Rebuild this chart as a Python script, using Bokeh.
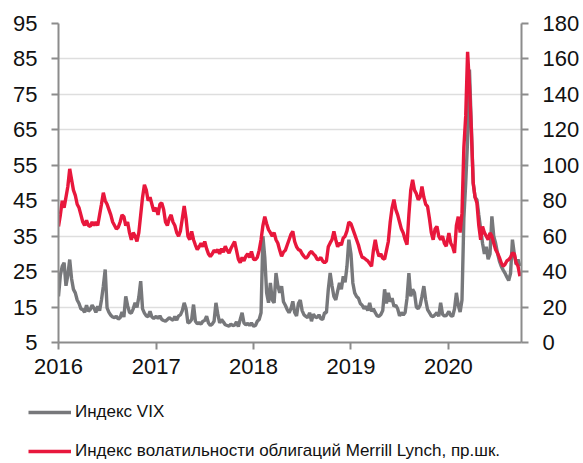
import pandas as pd
from bokeh.plotting import figure
from bokeh.layouts import column
from bokeh.models import (Range1d, LinearAxis, FixedTicker, DatetimeTickFormatter,
                          Legend, LegendItem, ColumnDataSource)
from bokeh.embed import file_html
from bokeh.resources import INLINE

# Weekly readings, one list per calendar year
vix_2016 = [18, 24, 26.5, 27.5, 21, 24, 28.4, 23, 20, 19, 17, 16, 14.5, 14.3, 13.5, 15.5,
            13.8, 14.3, 15.5, 14.7, 13.5, 15.2, 14, 17, 20.9, 25.6, 14.8, 13.5, 12.7, 12.2,
            12, 12.4, 11.6, 12, 13.6, 12.2, 18, 15.4, 13.5, 13.3, 14.5, 16.2, 14.9, 17.8,
            22.3, 14.5, 13.3, 12.5, 12.3, 13.8, 12.2, 11.8]
vix_2017 = [12.4, 11.8, 12.5, 11.5, 11.2, 11.0, 11.5, 12.0, 11.6, 11.3, 12.3, 11.3, 12.5,
            12.8, 14.0, 16.2, 14.5, 10.5, 10.8, 11.5, 15.7, 11, 10.3, 10.6, 10.2, 11.0, 11.2,
            12.4, 10.5, 9.8, 10.2, 11.0, 16.2, 13.0, 10.5, 11.5, 10.8, 10.0, 9.8, 9.6, 10.2,
            9.8, 9.9, 10.8, 9.5, 11.5, 13.4, 10.5, 10.0, 10.4, 9.8, 10.5]
vix_2018 = [9.6, 9.8, 11.0, 11.5, 13.4, 35, 29, 19, 16.2, 21.8, 17, 16.2, 24.6, 21, 19,
            20.9, 16.5, 15.5, 14.3, 13.4, 14.5, 16.6, 13.5, 12.5, 16, 17, 14, 12.8, 12.4,
            12, 13.4, 11, 13.0, 12.2, 12, 12.8, 11.7, 11.5, 13.4, 13.4, 20, 24.6, 21, 18, 17,
            19.5, 21.8, 20, 23.7, 22, 26.5, 34]
vix_2019 = [30, 21.8, 19, 18, 17.5, 16, 15.5, 14.5, 15.2, 14, 16.2, 13.8, 14.5, 13.4, 12.5,
            12.4, 12.9, 14, 20, 16, 19, 16.5, 17.5, 15.2, 15.5, 14.5, 12.5, 13.4, 12.8, 13.5,
            17.5, 24.6, 18, 20, 19, 15, 14.5, 15.5, 18, 20.9, 17, 14.3, 13.4, 12.5, 12.3,
            12.8, 13.4, 12.4, 16.2, 13, 12.5, 12.6]
vix_2020 = [13.8, 12.6, 12.4, 14.5, 19, 15.5, 13.6, 17, 40, 50, 62, 82, 66, 50, 46, 45.3,
            41, 37, 33, 30, 32, 28.5, 30, 40.6, 35, 33, 30.2, 28, 26.5, 25.5, 24.6, 23.5,
            22.5, 24.5, 34, 30, 27, 28.4, 26.5]

move_2016 = [65.5, 72, 80, 76, 82, 88, 98, 92, 86, 83, 78, 76, 72, 68, 66, 69, 66, 65.5,
             68, 66, 68, 66, 72, 78, 84.5, 80, 78, 75, 72, 68, 66, 64, 65, 68, 72, 71, 66,
             68, 62, 58, 62, 60, 57, 62, 72, 82, 89, 86, 80, 82, 78, 74]
move_2017 = [76, 72, 78, 78.7, 75, 68, 66, 70, 72, 68, 66, 62, 60, 63, 70, 77, 70, 60, 58,
             62.7, 58, 55, 52.4, 54, 56, 54, 57, 53, 50, 48.6, 50, 52, 51, 52.4, 50, 53, 51,
             54.3, 52, 50.5, 53, 55, 57, 52, 47, 45, 48, 46, 48.6, 50, 48, 51.4]
move_2018 = [47, 46.8, 48, 52, 58, 66, 71, 67, 63.7, 62, 60, 62, 58, 56, 52, 48.6, 51, 52,
             55, 58, 61, 62.7, 57, 54, 52.4, 52, 50, 48.6, 47.5, 48.5, 50.5, 51.4, 50, 49,
             47, 46.8, 48, 46, 44.9, 46, 54, 56.2, 58, 62.7, 58, 54, 56.2, 55, 59, 60, 63, 68]
move_2019 = [67, 64, 61, 58, 55, 51, 48, 47.7, 46.8, 46, 44.5, 43, 52, 58, 52, 48.6, 50,
             47.5, 47, 52, 57, 68, 76, 80.6, 75, 72, 68, 64, 61.8, 58, 55.2, 72, 86, 91.8,
             86, 84, 80.6, 82, 88, 82, 78, 76.8, 70, 62, 58, 64, 65.5, 60, 58, 60, 56, 54.3]
move_2020 = [61.8, 56, 54, 50.5, 66, 71, 62, 73, 110, 128, 164, 145, 120, 90, 82, 78.7, 66,
             58, 65.5, 62, 60, 58, 61.8, 60, 56, 52.4, 50.5, 48, 45, 43, 44, 46, 46.8, 48,
             50.5, 50, 45, 43, 37.4]

years = [2016, 2017, 2018, 2019, 2020]
vix_by_year = [vix_2016, vix_2017, vix_2018, vix_2019, vix_2020]
move_by_year = [move_2016, move_2017, move_2018, move_2019, move_2020]

left_ticks = [5, 15, 25, 35, 45, 55, 65, 75, 85, 95]
right_ticks = [0, 20, 40, 60, 80, 100, 120, 140, 160, 180]
year_ticks = ["2016-01-01", "2017-01-01", "2018-01-01", "2019-01-01", "2020-01-01"]

vix_label = "Индекс VIX"
move_label = "Индекс волатильности облигаций Merrill Lynch, пр.шк."


def weekly(year, n, offset_days=0):
    start = pd.Timestamp(f"{year}-01-01") + pd.Timedelta(days=offset_days)
    return [start + pd.Timedelta(days=7 * i) for i in range(n)]


def series(by_year):
    xs, ys = [], []
    for y, vals in zip(years, by_year):
        xs += weekly(y, len(vals), 2 if y == 2020 else 0)
        ys += vals
    return xs, ys


vx, vy = series(vix_by_year)
mx, my = series(move_by_year)

FONT = "Liberation Sans"
GREY = "#77787b"
RED = "#e8173c"
AXIS = "#8c8c8c"
LINE_W = 3.4

# ---- main chart ----
p = figure(width=583, height=392, output_backend="svg", toolbar_location=None,
           x_axis_type="datetime",
           x_range=Range1d(pd.Timestamp("2016-01-01"), pd.Timestamp("2020-10-01")),
           y_range=Range1d(5, 95),
           min_border_left=58, min_border_right=62, min_border_top=23, min_border_bottom=50)
p.outline_line_color = None
p.background_fill_color = "white"
p.border_fill_color = "white"
p.extra_y_ranges = {"move": Range1d(0, 180)}

# VIX on the left scale, bond volatility on the right scale
src_v = ColumnDataSource(dict(x=vx, y=vy))
src_m = ColumnDataSource(dict(x=mx, y=my))
p.line("x", "y", source=src_v, line_color=GREY, line_width=LINE_W)
p.line("x", "y", source=src_m, line_color=RED, line_width=LINE_W, y_range_name="move")

p.xaxis.ticker = FixedTicker(ticks=[pd.Timestamp(t).value / 1e6 for t in year_ticks])
p.xaxis.formatter = DatetimeTickFormatter(years="%Y", months="%Y", days="%Y", hours="%Y")
p.yaxis.ticker = FixedTicker(ticks=left_ticks)

right = LinearAxis(y_range_name="move", ticker=FixedTicker(ticks=right_ticks))
p.add_layout(right, "right")

for ax in [p.xaxis[0], p.yaxis[0], right]:
    ax.axis_line_color = AXIS
    ax.axis_line_width = 2
    ax.major_tick_line_color = AXIS
    ax.major_tick_line_width = 2
    ax.major_tick_out = 7
    ax.major_tick_in = 0
    ax.minor_tick_line_color = None
    ax.major_label_text_font = FONT
    ax.major_label_text_font_size = "22px"
    ax.major_label_text_color = "#111111"
p.xaxis.major_label_standoff = 9
p.yaxis.major_label_standoff = 14
right.major_label_standoff = 14

p.xgrid.grid_line_color = None
p.ygrid.ticker = FixedTicker(ticks=left_ticks)
p.ygrid.grid_line_color = "#dedede"
p.ygrid.grid_line_width = 1.5

# ---- legend strip below the chart ----
leg = figure(width=583, height=71, output_backend="svg", toolbar_location=None,
             x_range=Range1d(0, 1), y_range=Range1d(0, 1),
             x_axis_location=None, y_axis_location=None,
             min_border=0, min_border_left=0, min_border_right=0,
             min_border_top=0, min_border_bottom=0)
leg.frame_align = False
leg.outline_line_color = None
leg.grid.grid_line_color = None
leg.border_fill_color = "white"
# key renderers sit outside the visible range; only their legend swatches show
k_v = leg.line(x=[-5, -4], y=[-5, -4], line_color=GREY, line_width=LINE_W)
k_m = leg.line(x=[-5, -4], y=[-5, -4], line_color=RED, line_width=LINE_W)

legend = Legend(items=[LegendItem(label=vix_label, renderers=[k_v]),
                       LegendItem(label=move_label, renderers=[k_m])],
                location=(28, 2), orientation="vertical",
                padding=0, margin=0, spacing=19, glyph_width=43, glyph_height=20,
                label_height=20, label_standoff=4,
                label_text_font=FONT, label_text_font_size="17px",
                label_text_color="#111111",
                border_line_color=None, background_fill_alpha=0)
leg.add_layout(legend, "center")

open("out.html", "w").write(file_html(column(p, leg, spacing=0), INLINE))
